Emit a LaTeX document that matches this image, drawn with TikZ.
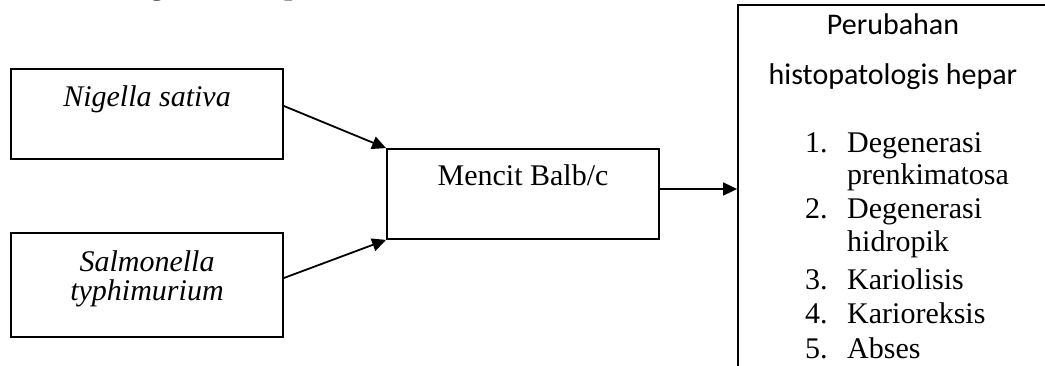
\documentclass[tikz,border=0pt]{standalone}
\usepackage{fontspec}
\setmainfont{Liberation Serif}
\newfontfamily\hdrfont{Carlito}
\usetikzlibrary{arrows.meta}
\tikzset{
  box/.style={draw, line width=1.8pt, rectangle, inner sep=0pt},
  arr/.style={line width=1.8pt, -{Triangle[length=14pt,width=13pt]}},
  txt/.style={inner sep=0pt, anchor=base, font=\fontsize{30}{34}\selectfont},
  ltxt/.style={inner sep=0pt, anchor=base west, font=\fontsize{30}{34}\selectfont},
}
\begin{document}
\begin{tikzpicture}[x=1pt,y=-1pt]
\useasboundingbox (0,0) rectangle (1045,366);
% partially visible heading
\node[ltxt, font=\fontsize{30}{34}\selectfont\bfseries] (head) at (68,-5) {Kerangka Konsep};
% boxes
\node[box, minimum width=272pt, minimum height=90pt] (a) at (147,114) {};
\node[box, minimum width=272pt, minimum height=104pt] (b) at (147,285) {};
\node[box, minimum width=272pt, minimum height=90pt] (m) at (523,194) {};
\node[box, minimum width=362pt, minimum height=415pt] (r) at (919,212.5) {};
% texts
\node[txt, font=\fontsize{30}{34}\selectfont\itshape] (ta) at (147,107) {Nigella sativa};
\node[txt, font=\fontsize{30}{34}\selectfont\itshape] (tb1) at (147,272) {Salmonella};
\node[txt, font=\fontsize{30}{34}\selectfont\itshape] (tb2) at (147,301) {typhimurium};
\node[txt] (tm) at (523,186) {Mencit Balb/c};
\node[txt, font=\fontsize{30}{34}\hdrfont] (h1) at (893,35) {Perubahan};
\node[txt, font=\fontsize{30}{34}\hdrfont] (h2) at (893,85) {histopatologis hepar};
\node[ltxt] (n1) at (805,153) {1.};
\node[ltxt] (l1) at (847,153) {Degenerasi};
\node[ltxt] (l1b) at (847,185) {prenkimatosa};
\node[ltxt] (n2) at (805,219) {2.};
\node[ltxt] (l2) at (847,219) {Degenerasi};
\node[ltxt] (l2b) at (847,252) {hidropik};
\node[ltxt] (n3) at (805,290) {3.};
\node[ltxt] (l3) at (847,290) {Kariolisis};
\node[ltxt] (n4) at (805,323.5) {4.};
\node[ltxt] (l4) at (847,323.5) {Karioreksis};
\node[ltxt] (n5) at (805,358) {5.};
\node[ltxt] (l5) at (847,358) {Abses};
% arrows
\draw[arr] ([yshift=8pt]a.east) -- (m.north west);
\draw[arr] ([yshift=7pt]b.east) -- (m.south west);
\draw[arr] ([yshift=5pt]m.east) -- ([yshift=5pt]m.east -| r.west);
\end{tikzpicture}
\end{document}
